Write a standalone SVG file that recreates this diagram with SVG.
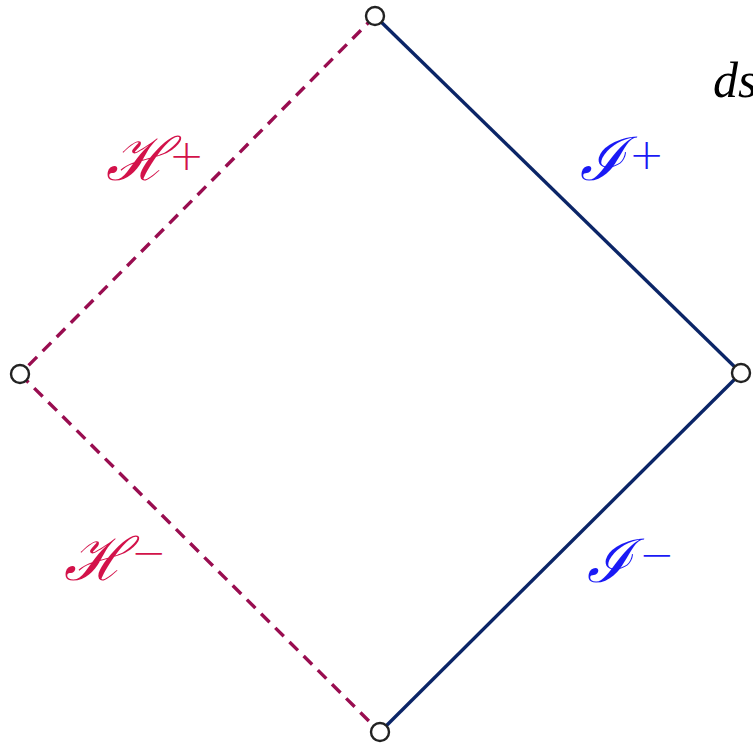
<svg xmlns="http://www.w3.org/2000/svg" width="753" height="747" viewBox="0 0 753 747">
<style>
.hz{stroke:#990D50;stroke-width:3.4;fill:none;stroke-dasharray:12,8}
.sc{stroke:#0B2567;stroke-width:3.4;fill:none}
.nd{fill:#fff;stroke:#222;stroke-width:2.4}
.lh{fill:#D3124A;font-family:"DejaVu Serif",serif;font-style:italic;font-size:60px}
.li{fill:#1A1AF5;font-family:"DejaVu Serif",serif;font-style:italic;font-size:60px}
.sup{font-family:"DejaVu Sans",sans-serif;font-style:normal;font-weight:300;font-size:42px}
</style>
<rect width="753" height="747" fill="#fff"/>
<g id="connectors">
<line class="hz" x1="375" y1="16" x2="20" y2="374"/>
<line class="hz" x1="20" y1="374" x2="380" y2="732"/>
<line class="sc" x1="375" y1="16" x2="741" y2="373"/>
<line class="sc" x1="741" y1="373" x2="380" y2="732"/>
</g>
<g id="node-top"><circle class="nd" cx="375" cy="16" r="9"/></g>
<g id="node-left"><circle class="nd" cx="20" cy="374" r="9"/></g>
<g id="node-right"><circle class="nd" cx="741" cy="373" r="9"/></g>
<g id="node-bottom"><circle class="nd" cx="380" cy="732" r="9"/></g>
<g id="labels">
<text class="lh" x="106" y="180">ℋ</text><text class="lh sup" x="169" y="170">+</text>
<text class="li" x="580" y="180">ℐ</text><text class="li sup" x="629" y="169">+</text>
<text class="lh" x="64" y="580">ℋ</text><text class="lh sup" x="131" y="567">−</text>
<text class="li" x="587" y="582">ℐ</text><text class="li sup" x="639" y="569">−</text>
<text x="713" y="97" font-size="50" font-family="'Liberation Serif',serif" font-style="italic" fill="#000">ds</text>
</g>
</svg>
